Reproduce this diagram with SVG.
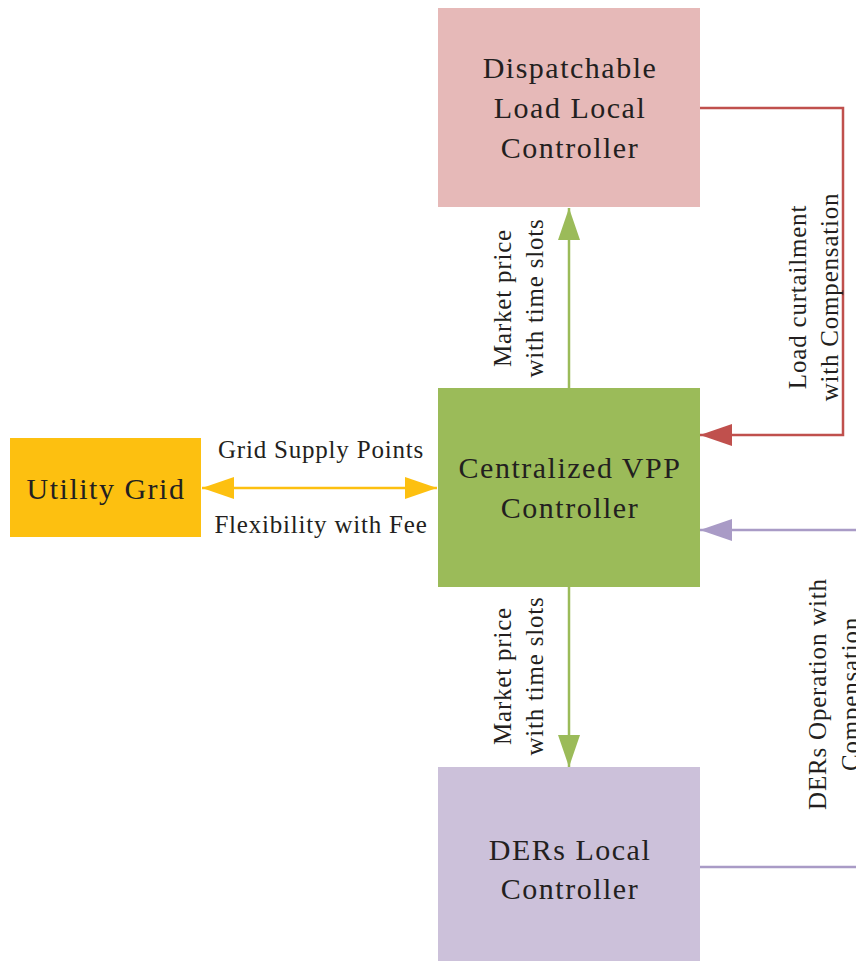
<svg xmlns="http://www.w3.org/2000/svg" width="856" height="961" viewBox="0 0 856 961">
<style>
.box{stroke:none}
.lbl{font-family:"Liberation Serif","Times New Roman",serif;font-size:30px;letter-spacing:1.5px;fill:#231F20;text-anchor:middle}
.elbl{font-family:"Liberation Serif","Times New Roman",serif;font-size:25px;letter-spacing:0.8px;fill:#231F20;text-anchor:middle}
.c{fill:none;stroke-width:2.5}
</style>
<defs>
<marker id="aG" markerUnits="userSpaceOnUse" markerWidth="32" markerHeight="22" refX="32" refY="11" orient="auto-start-reverse"><path d="M0,0 L32,11 L0,22 z" fill="#9BBB59"/></marker>
<marker id="aY" markerUnits="userSpaceOnUse" markerWidth="32" markerHeight="22" refX="32" refY="11" orient="auto-start-reverse"><path d="M0,0 L32,11 L0,22 z" fill="#FDC010"/></marker>
<marker id="aR" markerUnits="userSpaceOnUse" markerWidth="32" markerHeight="22" refX="32" refY="11" orient="auto-start-reverse"><path d="M0,0 L32,11 L0,22 z" fill="#C0504D"/></marker>
<marker id="aP" markerUnits="userSpaceOnUse" markerWidth="32" markerHeight="22" refX="32" refY="11" orient="auto-start-reverse"><path d="M0,0 L32,11 L0,22 z" fill="#A99BC6"/></marker>
</defs>

<g id="connectors">
<line class="c" x1="569" y1="388" x2="569" y2="208" stroke="#9BBB59" marker-end="url(#aG)"/>
<line class="c" x1="569" y1="587" x2="569" y2="767" stroke="#9BBB59" marker-end="url(#aG)"/>
<line class="c" x1="202" y1="488" x2="437" y2="488" stroke="#FDC010" marker-start="url(#aY)" marker-end="url(#aY)"/>
<polyline class="c" points="700,108 843,108 843,435 700,435" stroke="#C0504D" marker-end="url(#aR)"/>
<line class="c" x1="860" y1="530" x2="700" y2="530" stroke="#A99BC6" marker-end="url(#aP)"/>
<line class="c" x1="700" y1="867" x2="860" y2="867" stroke="#A99BC6"/>
<text class="elbl" x="321" y="458">Grid Supply Points</text>
<text class="elbl" x="321" y="533">Flexibility with Fee</text>
<g transform="translate(511,298) rotate(-90)"><text class="elbl" x="0" y="0">Market price</text></g>
<g transform="translate(543,298) rotate(-90)"><text class="elbl" x="0" y="0">with time slots</text></g>
<g transform="translate(511,676) rotate(-90)"><text class="elbl" x="0" y="0">Market price</text></g>
<g transform="translate(543,676) rotate(-90)"><text class="elbl" x="0" y="0">with time slots</text></g>
<g transform="translate(806,297) rotate(-90)"><text class="elbl" x="0" y="0">Load curtailment</text></g>
<g transform="translate(838,297) rotate(-90)"><text class="elbl" x="0" y="0">with Compensation</text></g>
<g transform="translate(826,694) rotate(-90)"><text class="elbl" x="0" y="0">DERs Operation with</text></g>
<g transform="translate(859,694) rotate(-90)"><text class="elbl" x="0" y="0">Compensation</text></g>
</g>

<g id="dispatchable">
<rect class="box" x="438" y="8" width="262" height="199" fill="#E6B9B8"/>
<text class="lbl" x="570" y="78">Dispatchable</text>
<text class="lbl" x="570" y="118">Load Local</text>
<text class="lbl" x="570" y="158">Controller</text>
</g>
<g id="vpp">
<rect class="box" x="438" y="388" width="262" height="199" fill="#9BBB59"/>
<text class="lbl" x="570" y="478">Centralized VPP</text>
<text class="lbl" x="570" y="518">Controller</text>
</g>
<g id="ders">
<rect class="box" x="438" y="767" width="262" height="194" fill="#CCC1DA"/>
<text class="lbl" x="570" y="860">DERs Local</text>
<text class="lbl" x="570" y="899">Controller</text>
</g>
<g id="grid">
<rect class="box" x="10" y="438" width="191" height="99" fill="#FDC010"/>
<text class="lbl" x="106" y="499">Utility Grid</text>
</g>
</svg>
